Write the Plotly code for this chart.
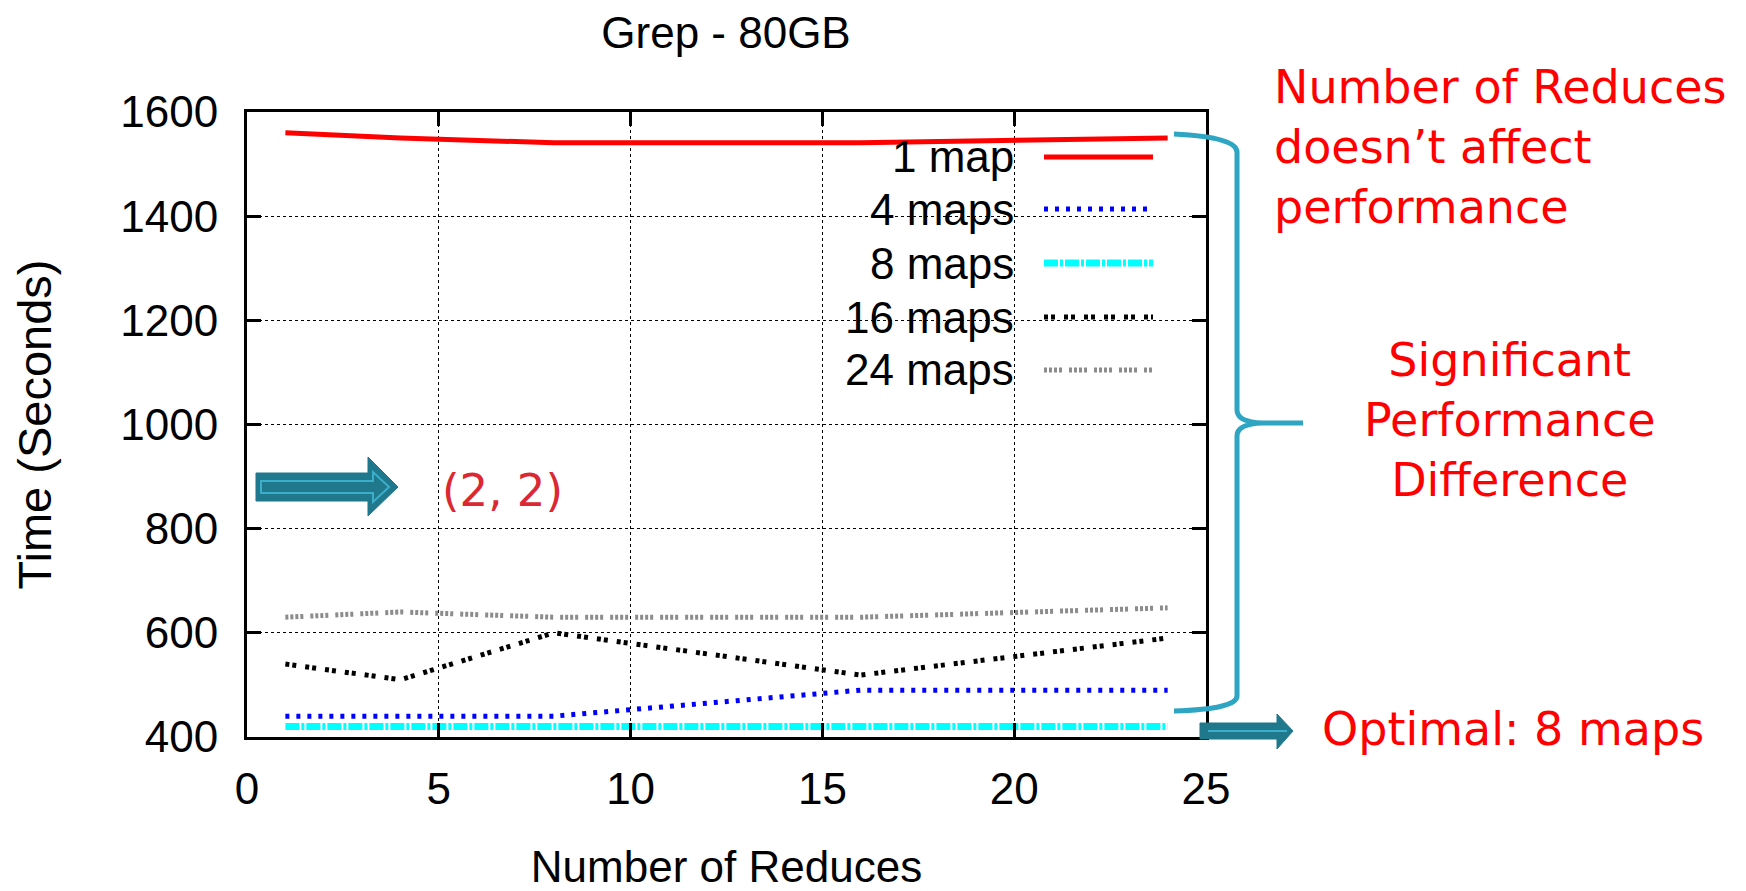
import plotly.graph_objects as go

# ---- data ----
reduces = [1, 4, 8, 16, 24]
series_names = ["1 map", "4 maps", "8 maps", "16 maps", "24 maps"]
t_1map = [1560, 1550, 1541, 1541, 1550]
t_4maps = [440, 440, 440, 490, 490]
t_8maps = [420, 420, 420, 420, 420]
t_16maps = [540, 510, 600, 519, 590]
t_24maps = [630, 640, 630, 630, 648]
x_ticks = [0, 5, 10, 15, 20, 25]
y_ticks = [400, 600, 800, 1000, 1200, 1400, 1600]

W, H = 1746, 891
L, R, T, B = 247, 1206, 112, 737  # plot area in pixels


def px(x):
    return (x - L) / (R - L)


def py(y):
    return (B - y) / (B - T)


styles = [
    dict(color="#ff0000", width=5, dash="solid"),
    dict(color="#0000ff", width=5, dash="4px,7px"),
    dict(color="#00ffff", width=7, dash="14px,2px,3px,2px"),
    dict(color="#000000", width=5, dash="4px,3px,4px,9px"),
    dict(color="#8c8c8c", width=5, dash="3px,2px,3px,2px,3px,2px,3px,7px"),
]
values = [t_1map, t_4maps, t_8maps, t_16maps, t_24maps]

fig = go.Figure()
for name, vals, st in zip(series_names, values, styles):
    fig.add_trace(go.Scatter(x=reduces, y=vals, mode="lines", name=name,
                             line=st, showlegend=False))

axis_font = dict(family="Liberation Sans, Arial, sans-serif", size=44, color="black")

fig.update_layout(
    width=W, height=H,
    margin=dict(l=L, r=W - R, t=T, b=H - B, autoexpand=False),
    paper_bgcolor="white", plot_bgcolor="white",
    title=dict(text="Grep - 80GB", font=axis_font, x=726 / W, xanchor="center",
               y=1 - 33 / H, yanchor="middle"),
    xaxis=dict(range=[0, 25], tickvals=x_ticks, ticks="inside", ticklen=14, tickwidth=3,
               tickcolor="black", showline=True, linewidth=3, linecolor="black",
               mirror="ticks", showgrid=True, gridcolor="black", gridwidth=1,
               griddash="3px,3px", zeroline=False, tickfont=axis_font,
               ticklabelstandoff=11,
               title=dict(text="Number of Reduces", font=axis_font, standoff=51)),
    yaxis=dict(range=[400, 1600], tickvals=y_ticks, ticks="inside", ticklen=14, tickwidth=3,
               tickcolor="black", showline=True, linewidth=3, linecolor="black",
               mirror="ticks", showgrid=True, gridcolor="black", gridwidth=1,
               griddash="3px,3px", zeroline=False, tickfont=axis_font,
               ticklabelstandoff=17,
               title=dict(text="Time (Seconds)", font=dict(family="Liberation Sans, Arial, sans-serif", size=47, color="black"), standoff=54)),
)

# ---- manual legend (text right-aligned, sample to the right) ----
legend_rows = [157, 209, 263, 317, 370]
for name, st, yy in zip(series_names, styles, legend_rows):
    fig.add_annotation(xref="paper", yref="paper", x=px(1016), y=py(yy),
                       xanchor="right", yanchor="middle", text=name, showarrow=False,
                       font=axis_font)
    fig.add_shape(type="line", xref="paper", yref="paper",
                  x0=px(1044), x1=px(1153), y0=py(yy), y1=py(yy), line=st)

red_font = dict(family="DejaVu Sans, Verdana, sans-serif", size=46, color="#ff0000")
fig.add_annotation(xref="paper", yref="paper", x=px(1272), y=py(147), xanchor="left",
                   yanchor="middle", align="left", showarrow=False, font=red_font,
                   text="Number of Reduces<br>doesn’t affect<br>performance")
fig.add_annotation(xref="paper", yref="paper", x=px(1510), y=py(420), xanchor="center",
                   yanchor="middle", align="center", showarrow=False, font=red_font,
                   text="Significant<br>Performance<br>Difference")
fig.add_annotation(xref="paper", yref="paper", x=px(1320), y=py(729), xanchor="left",
                   yanchor="middle", showarrow=False, font=red_font,
                   text="Optimal: 8 maps")
fig.add_annotation(xref="paper", yref="paper", x=px(502), y=py(490), xanchor="center",
                   yanchor="middle", showarrow=False,
                   font=dict(family="DejaVu Sans, Verdana, sans-serif", size=45, color="#dc2832"),
                   text="(2, 2)")


def path(points, close=False):
    s = "M " + " L ".join(f"{px(a):.5f},{py(b):.5f}" for a, b in points)
    return s + (" Z" if close else "")


# brace
brace = (f"M {px(1174):.5f},{py(134):.5f} Q {px(1237):.5f},{py(137):.5f} {px(1237):.5f},{py(152):.5f} "
         f"L {px(1237):.5f},{py(410):.5f} Q {px(1237):.5f},{py(422):.5f} {px(1262):.5f},{py(423):.5f} "
         f"L {px(1303):.5f},{py(423):.5f} M {px(1262):.5f},{py(423):.5f} "
         f"Q {px(1237):.5f},{py(424):.5f} {px(1237):.5f},{py(436):.5f} "
         f"L {px(1237):.5f},{py(696):.5f} Q {px(1237):.5f},{py(709):.5f} {px(1174):.5f},{py(711):.5f}")
fig.add_shape(type="path", xref="paper", yref="paper", path=brace,
              line=dict(color="#2da5c3", width=5))

# arrows
dark = "#1f788c"
light = "#3aaecb"
arrow1 = [(256, 473), (368, 473), (368, 457), (398, 487), (368, 516), (368, 501), (256, 501)]
fig.add_shape(type="path", xref="paper", yref="paper", path=path(arrow1, True),
              fillcolor=dark, line=dict(color=dark, width=1))
arrow1_in = [(261, 481), (373, 481), (373, 472), (389, 487), (373, 502), (373, 493), (261, 493)]
fig.add_shape(type="path", xref="paper", yref="paper", path=path(arrow1_in, True),
              line=dict(color=light, width=2))
arrow2 = [(1200, 723), (1277, 723), (1277, 714), (1293, 731), (1277, 749), (1277, 739), (1200, 739)]
fig.add_shape(type="path", xref="paper", yref="paper", path=path(arrow2, True),
              fillcolor=dark, line=dict(color=dark, width=1))
fig.add_shape(type="path", xref="paper", yref="paper",
              path=path([(1208, 731), (1287, 731)]), line=dict(color=light, width=2))

fig.write_html("out.html", config={"displayModeBar": False},
               post_script="document.body.style.margin='0';document.body.style.overflow='hidden';")
